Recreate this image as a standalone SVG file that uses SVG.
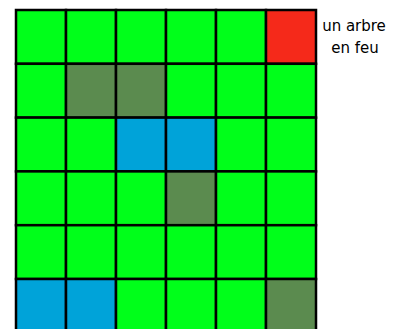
<svg xmlns="http://www.w3.org/2000/svg" width="399" height="329" viewBox="0 0 399 329">
<style>
rect{stroke:#000;stroke-width:2.5}
.g{fill:#00ff1a}.d{fill:#5b8b4f}.b{fill:#00a3d9}.r{fill:#f5291a}
text{font-family:"DejaVu Sans",Verdana,sans-serif;font-size:15px;fill:#000;text-anchor:middle}
</style>
<rect width="399" height="329" fill="#fff" style="stroke:none"/>
<g id="grid">
<g id="row0">
<rect class="g" x="16" y="10" width="50" height="53.8"/><rect class="g" x="66" y="10" width="50" height="53.8"/><rect class="g" x="116" y="10" width="50" height="53.8"/><rect class="g" x="166" y="10" width="50" height="53.8"/><rect class="g" x="216" y="10" width="50" height="53.8"/><rect class="r" x="266" y="10" width="50" height="53.8"/>
</g>
<g id="row1">
<rect class="g" x="16" y="63.8" width="50" height="53.8"/><rect class="d" x="66" y="63.8" width="50" height="53.8"/><rect class="d" x="116" y="63.8" width="50" height="53.8"/><rect class="g" x="166" y="63.8" width="50" height="53.8"/><rect class="g" x="216" y="63.8" width="50" height="53.8"/><rect class="g" x="266" y="63.8" width="50" height="53.8"/>
</g>
<g id="row2">
<rect class="g" x="16" y="117.6" width="50" height="53.8"/><rect class="g" x="66" y="117.6" width="50" height="53.8"/><rect class="b" x="116" y="117.6" width="50" height="53.8"/><rect class="b" x="166" y="117.6" width="50" height="53.8"/><rect class="g" x="216" y="117.6" width="50" height="53.8"/><rect class="g" x="266" y="117.6" width="50" height="53.8"/>
</g>
<g id="row3">
<rect class="g" x="16" y="171.4" width="50" height="53.8"/><rect class="g" x="66" y="171.4" width="50" height="53.8"/><rect class="g" x="116" y="171.4" width="50" height="53.8"/><rect class="d" x="166" y="171.4" width="50" height="53.8"/><rect class="g" x="216" y="171.4" width="50" height="53.8"/><rect class="g" x="266" y="171.4" width="50" height="53.8"/>
</g>
<g id="row4">
<rect class="g" x="16" y="225.2" width="50" height="53.8"/><rect class="g" x="66" y="225.2" width="50" height="53.8"/><rect class="g" x="116" y="225.2" width="50" height="53.8"/><rect class="g" x="166" y="225.2" width="50" height="53.8"/><rect class="g" x="216" y="225.2" width="50" height="53.8"/><rect class="g" x="266" y="225.2" width="50" height="53.8"/>
</g>
<g id="row5">
<rect class="b" x="16" y="279" width="50" height="53.8"/><rect class="b" x="66" y="279" width="50" height="53.8"/><rect class="g" x="116" y="279" width="50" height="53.8"/><rect class="g" x="166" y="279" width="50" height="53.8"/><rect class="g" x="216" y="279" width="50" height="53.8"/><rect class="d" x="266" y="279" width="50" height="53.8"/>
</g>
</g>
<g id="label">
<text x="354" y="31">un arbre</text>
<text x="355" y="53">en feu</text>
</g>
</svg>
